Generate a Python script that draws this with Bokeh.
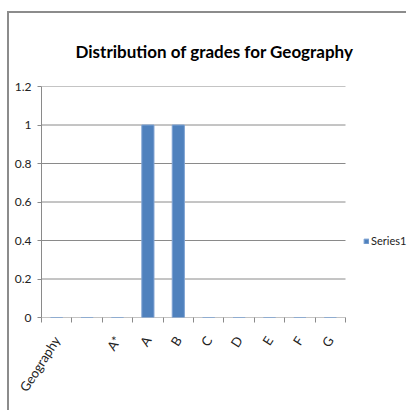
import math
from bokeh.plotting import figure
from bokeh.models import FixedTicker, Range1d, Legend, LegendItem, ColumnDataSource
from bokeh.embed import file_html
from bokeh.resources import INLINE

title = "Distribution of grades for Geography"
categories = ["Geography", "", "A*", "A", "B", "C", "D", "E", "F", "G"]
values = [0, 0, 0, 1, 1, 0, 0, 0, 0, 0]
series_name = "Series1"
y_ticks = [0, 0.2, 0.4, 0.6, 0.8, 1.0, 1.2]
y_labels = ["0", "0.2", "0.4", "0.6", "0.8", "1", "1.2"]

n = len(categories)
centers = [i + 0.5 for i in range(n)]
bounds = [float(i) for i in range(n + 1)]

FONT = "Lato"
GRID = "#8a8a8a"
TXT = "#222222"

# layout (pixels)
W, H = 399, 399
LEFT, TOP, BOTTOM = 32, 73, 95
CAT_W = 304                      # width occupied by the categories
FRAME_W = W - LEFT
x_end = n * FRAME_W / CAT_W

p = figure(width=W, height=H, output_backend="svg", toolbar_location=None,
           x_range=Range1d(0, x_end), y_range=Range1d(0, y_ticks[-1]),
           min_border_left=LEFT, min_border_right=0, min_border_top=TOP, min_border_bottom=BOTTOM)
p.styles = {"border-left": "2px solid #8c8c8c", "border-top": "2px solid #8c8c8c",
            "margin-top": "11px", "margin-left": "7px"}
p.outline_line_color = None
p.xgrid.grid_line_color = None
p.ygrid.grid_line_color = None

# horizontal gridlines limited to the category area
p.segment(x0=[0] * len(y_ticks), x1=[n] * len(y_ticks), y0=y_ticks, y1=y_ticks,
          line_color=GRID, line_width=1)

src = ColumnDataSource(dict(x=centers, top=values))
r = p.vbar(x="x", top="top", width=0.4, source=src, fill_color="#4F81BD",
           line_color="#7FA3D3", line_width=1)

p.title.text = title
p.title.align = "left"
p.title.text_font = FONT
p.title.text_font_style = "bold"
p.title.text_font_size = "17px"
p.title.text_color = "#000000"
p.title.standoff = 50
p.title.offset = 34

# x axis: labels at centres, ticks at boundaries
xa = p.xaxis[0]
xa.ticker = FixedTicker(ticks=centers, minor_ticks=bounds)
xa.major_label_overrides = {c: lab for c, lab in zip(centers, categories)}
xa.major_tick_line_color = None
xa.minor_tick_line_color = GRID
xa.minor_tick_out = 5
xa.minor_tick_in = 0
xa.axis_line_color = None
xa.major_label_orientation = 1.0
xa.major_label_text_font = FONT
xa.major_label_text_font_size = "13px"
xa.major_label_text_color = TXT
xa.major_label_standoff = 14

ya = p.yaxis[0]
ya.ticker = FixedTicker(ticks=y_ticks)
ya.major_label_overrides = {t: l for t, l in zip(y_ticks, y_labels)}
ya.major_tick_line_color = GRID
ya.major_tick_out = 4
ya.major_tick_in = 0
ya.minor_tick_line_color = None
ya.axis_line_color = GRID
ya.major_label_text_font = FONT
ya.major_label_text_font_size = "12px"
ya.major_label_text_color = TXT
ya.major_label_standoff = 6

legend = Legend(items=[LegendItem(label=series_name, renderers=[r])],
                location=(322, 70), background_fill_alpha=0, border_line_color=None,
                padding=0, margin=0, glyph_width=6, glyph_height=6, label_standoff=2,
                label_text_font=FONT, label_text_font_size="11px", label_text_color=TXT)
p.add_layout(legend)

open("out.html", "w").write(file_html(p, INLINE))
